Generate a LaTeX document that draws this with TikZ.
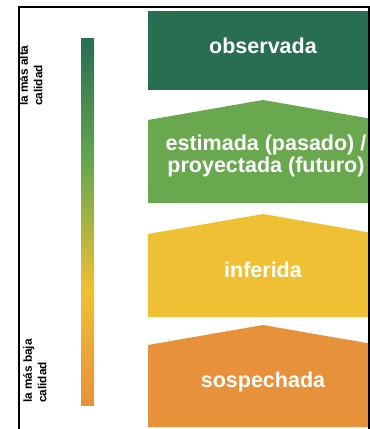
\documentclass[tikz,border=0pt]{standalone}
\usepackage{fontspec}
\setmainfont{Liberation Sans}

\definecolor{obscol}{HTML}{276E53}
\definecolor{estcol}{HTML}{6AA84F}
\definecolor{infcol}{HTML}{F0C034}
\definecolor{sospcol}{HTML}{E8913B}

% quality bar, path mapped onto 25bp..75bp
\pgfdeclareverticalshading{qualitybar}{100bp}{color(0bp)=(sospcol); color(25bp)=(sospcol);
  color(40.7bp)=(infcol); color(57.4bp)=(estcol); color(75bp)=(obscol); color(100bp)=(obscol)}

\begin{document}
\begin{tikzpicture}[x=1pt,y=-1pt,
                    tier text/.style={text=white,align=center,
                                      font=\bfseries\fontsize{21.5}{22.5}\selectfont},
                    side label/.style={rotate=90,anchor=north west,inner sep=0pt,align=left,
                                       font=\bfseries\fontsize{11.8}{14.5}\selectfont}]

  \useasboundingbox (0,0) rectangle (370,429);
  \clip (0,0) rectangle (370,429);

  % tiers
  \fill[obscol] (148,11) rectangle (378,90);
  \fill[estcol] (148,203) -- (148,120) -- (263,100) -- (378,120) -- (378,203) -- cycle;
  \fill[infcol] (148,317) -- (148,234) -- (263,214) -- (378,234) -- (378,317) -- cycle;
  \fill[sospcol] (148,427) -- (148,345) -- (263,325) -- (378,345) -- (378,427) -- cycle;

  \node[tier text] (obs) at (263,46) {observada};
  \node[tier text] (est) at (266,156) {estimada (pasado) /\\proyectada (futuro)};
  \node[tier text] (inf) at (263,270) {inferida};
  \node[tier text] (sos) at (263,382) {sospechada};

  % quality scale
  \shade[shading=qualitybar] (81,38) rectangle (94,405);
  \node[side label] (hi) at (19,106) {la más alta\\calidad};
  \node[side label] (lo) at (23,403) {la más baja\\calidad};

  % frame
  \draw[line width=2pt] (19,7) rectangle (369,450);
\end{tikzpicture}
\end{document}
